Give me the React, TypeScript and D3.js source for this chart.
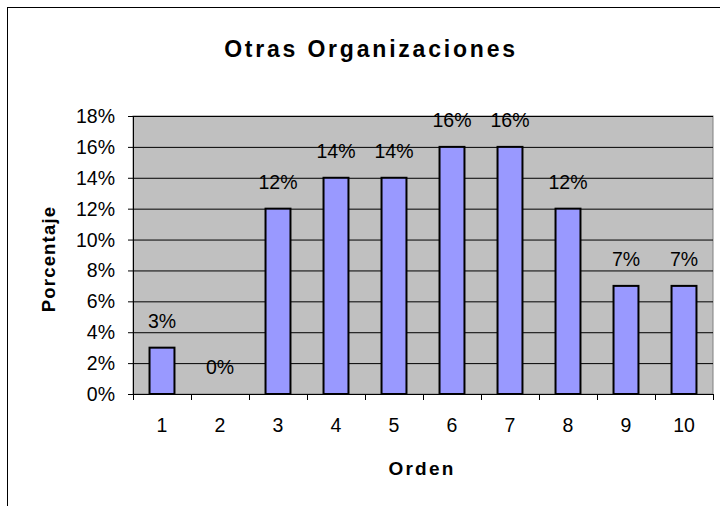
import React from 'react';
import * as d3 from 'd3';

const categories = ['1', '2', '3', '4', '5', '6', '7', '8', '9', '10'];
const values = [3, 0, 12, 14, 14, 16, 16, 12, 7, 7];
const yTicks = [0, 2, 4, 6, 8, 10, 12, 14, 16, 18];

const title = 'Otras Organizaciones';
const xTitle = 'Orden';
const yTitle = 'Porcentaje';

const width = 720;
const height = 506;
const plot = { left: 133, top: 116, right: 713, bottom: 394 };
const font = '"Liberation Sans", Arial, sans-serif';

const App: React.FC = () => {
  const x = d3.scaleBand<string>()
    .domain(categories)
    .range([plot.left, plot.right])
    .paddingInner(0.57)
    .paddingOuter(0.285);

  const y = d3.scaleLinear()
    .domain([0, 18])
    .range([plot.bottom, plot.top]);

  const step = (plot.right - plot.left) / categories.length;
  const boundaries = d3.range(categories.length + 1).map(i => plot.left + i * step);

  return (
    <svg
      width={width}
      height={height}
      style={{ position: 'absolute', left: 0, top: 0, background: '#fff' }}
      fontFamily={font}
    >
      {/* outer chart frame */}
      <rect x={7.5} y={7.5} width={width + 10} height={height + 10} fill="white" stroke="#000" />

      <text x={371} y={57} textAnchor="middle" fontSize={23} fontWeight="bold" letterSpacing={2.8}>
        {title}
      </text>

      {/* plot area */}
      <rect
        x={plot.left}
        y={plot.top}
        width={plot.right - plot.left}
        height={plot.bottom - plot.top}
        fill="#C0C0C0"
        stroke="#808080"
      />

      {yTicks.slice(1).map(t => (
        <line key={'g' + t} x1={plot.left} x2={plot.right} y1={y(t) + 0.5} y2={y(t) + 0.5} stroke="#000" />
      ))}

      {categories.map((c, i) => (
        <g key={c}>
          <rect
            x={x(c)}
            y={y(values[i])}
            width={x.bandwidth()}
            height={plot.bottom - y(values[i])}
            fill="#9999FF"
            stroke="#000"
            strokeWidth={2}
          />
          <text
            x={x(c)! + x.bandwidth() / 2}
            y={y(values[i]) - 20}
            textAnchor="middle"
            fontSize={19.5}
          >
            {values[i] + '%'}
          </text>
          <text x={x(c)! + x.bandwidth() / 2} y={432} textAnchor="middle" fontSize={19.5}>
            {c}
          </text>
        </g>
      ))}

      {/* axes */}
      <line x1={plot.left + 0.5} x2={plot.left + 0.5} y1={plot.top} y2={plot.bottom} stroke="#000" />
      <line x1={plot.left} x2={plot.right + 0.5} y1={plot.bottom + 0.5} y2={plot.bottom + 0.5} stroke="#000" />

      {yTicks.map(t => (
        <g key={'y' + t}>
          <line x1={plot.left - 5} x2={plot.left} y1={y(t) + 0.5} y2={y(t) + 0.5} stroke="#000" />
          <text x={115} y={y(t) + 7} textAnchor="end" fontSize={19.5}>
            {t + '%'}
          </text>
        </g>
      ))}

      {boundaries.map((b, i) => (
        <line key={'x' + i} x1={b + 0.5} x2={b + 0.5} y1={plot.bottom} y2={plot.bottom + 6} stroke="#000" />
      ))}

      <text x={422} y={475} textAnchor="middle" fontSize={19} fontWeight="bold" letterSpacing={2.2}>
        {xTitle}
      </text>

      <text
        transform="translate(55,259) rotate(-90)"
        textAnchor="middle"
        fontSize={18.5}
        fontWeight="bold"
        letterSpacing={1.2}
      >
        {yTitle}
      </text>
    </svg>
  );
};

export default App;
